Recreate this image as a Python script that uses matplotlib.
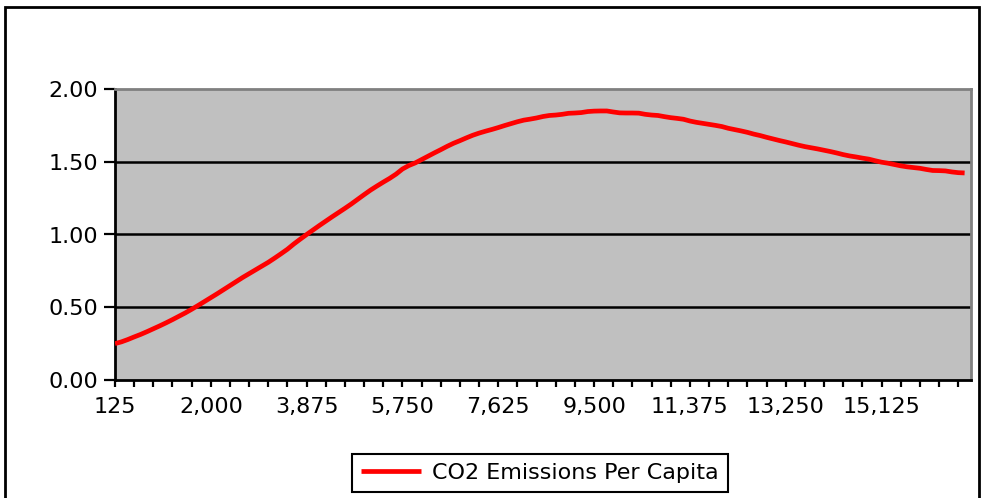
import numpy as np
import matplotlib.pyplot as plt
from matplotlib.patches import Rectangle

# categorias do eixo x (125 em 125)
income = [125 * (i + 1) for i in range(134)]

# valores
co2 = [0.250, 0.262, 0.278, 0.296, 0.313, 0.332, 0.352, 0.372, 0.393, 0.415,
       0.438, 0.461, 0.486, 0.512, 0.539, 0.566, 0.593, 0.621, 0.649, 0.677,
       0.705, 0.731, 0.757, 0.783, 0.809, 0.838, 0.868, 0.899, 0.935, 0.968,
       1.000, 1.031, 1.062, 1.092, 1.122, 1.151, 1.180, 1.210, 1.242, 1.274,
       1.305, 1.333, 1.360, 1.386, 1.415, 1.450, 1.474, 1.492, 1.515, 1.538,
       1.561, 1.583, 1.606, 1.627, 1.645, 1.664, 1.682, 1.697, 1.710, 1.722,
       1.735, 1.749, 1.762, 1.775, 1.786, 1.793, 1.801, 1.811, 1.818, 1.821,
       1.826, 1.833, 1.835, 1.838, 1.845, 1.848, 1.849, 1.849, 1.842, 1.836,
       1.835, 1.835, 1.834, 1.826, 1.821, 1.818, 1.810, 1.803, 1.798, 1.792,
       1.780, 1.771, 1.764, 1.757, 1.750, 1.742, 1.730, 1.721, 1.712, 1.702,
       1.690, 1.680, 1.668, 1.657, 1.646, 1.636, 1.625, 1.614, 1.604, 1.596,
       1.588, 1.579, 1.570, 1.560, 1.549, 1.540, 1.533, 1.525, 1.518, 1.507,
       1.497, 1.490, 1.481, 1.472, 1.465, 1.460, 1.455, 1.447, 1.440, 1.439,
       1.437, 1.430, 1.425, 1.423]

tick_vals = list(range(125, 16626, 375))
label_vals = [125, 2000, 3875, 5750, 7625, 9500, 11375, 13250, 15125]
y_ticks = [0.0, 0.5, 1.0, 1.5, 2.0]

plt.rcParams['font.family'] = 'DejaVu Sans'

fig = plt.figure(figsize=(9.83, 4.98), dpi=100)
ax = fig.add_axes([115/983, 1 - 380/498, (971 - 115)/983, (380 - 89)/498])
ax.set_facecolor('#C0C0C0')

# grade horizontal
for yv in y_ticks[1:-1]:
    ax.axhline(yv, color='black', lw=1.8, zorder=1)

ax.plot(income, co2, color='#FF0000', lw=3.4, label='CO2 Emissions Per Capita',
        solid_capstyle='butt', zorder=3)

ax.set_xlim(125, 16875)
ax.set_ylim(0, 2.0)

ax.set_xticks(tick_vals)
ax.set_xticklabels([f"{v:,}" if v in label_vals else "" for v in tick_vals])
ax.set_yticks(y_ticks)
ax.set_yticklabels([f"{v:.2f}" for v in y_ticks])

ax.tick_params(axis='x', length=5, width=1.6, direction='out', labelsize=16, pad=7)
ax.tick_params(axis='y', length=8, width=1.6, direction='out', labelsize=16, pad=4)

for s in ['left', 'bottom']:
    ax.spines[s].set_color('black')
    ax.spines[s].set_linewidth(2)
for s in ['top', 'right']:
    ax.spines[s].set_color('#808080')
    ax.spines[s].set_linewidth(2)

# legenda
leg = fig.legend(loc='center', bbox_to_anchor=(540/983, 1 - 473/498), fontsize=16,
                 handlelength=2.7, handletextpad=0.5, borderpad=0.4,
                 fancybox=False, edgecolor='black', framealpha=1)
leg.get_frame().set_linewidth(1.5)

# moldura externa
fig.patches.append(Rectangle((5/983, -0.02), (979 - 5)/983, 1.02 - 7/498,
                             transform=fig.transFigure, fill=False,
                             edgecolor='black', lw=2))

plt.savefig('out.png', dpi=100)
